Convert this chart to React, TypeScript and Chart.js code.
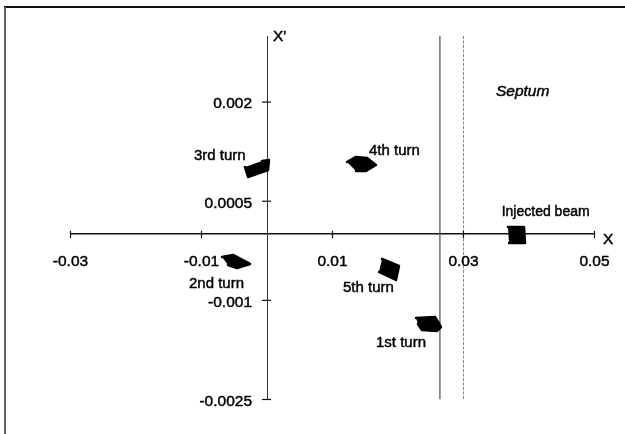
import React, { useEffect, useRef } from "react";
import { Chart, registerables } from "chart.js";

Chart.register(...registerables);

// Axis ranges and tick values
const xRange = [-0.03, 0.05];
const yRange = [-0.0025, 0.003];
const xTicks = [-0.03, -0.01, 0.01, 0.03, 0.05];
const yTicks = [0.002, 0.0005, -0.001, -0.0025];

// Beam outlines (X, X') for each turn
const turn1 = [[0.02275, -0.001266], [0.02565, -0.001251], [0.02656, -0.001403], [0.02595, -0.001463], [0.02366, -0.001448], [0.02305, -0.001357]];
const turn2 = [[-0.00687, -0.000343], [-0.00519, -0.000313], [-0.0026, -0.000449], [-0.00458, -0.00051], [-0.00595, -0.000465]];
const turn3 = [[-0.00336, 0.001018], [-0.0029, 0.000867], [0.00015, 0.000973], [0.00031, 0.001124], [-0.00076, 0.001109]];
const turn4 = [[0.01221, 0.001094], [0.01359, 0.00117], [0.01527, 0.001155], [0.01664, 0.001049], [0.01511, 0.000958], [0.01359, 0.000958]];
const turn5 = [[0.01756, -0.000374], [0.02015, -0.00048], [0.01969, -0.000691], [0.0171, -0.00057]];
const injected = [[0.03679, 0.00011], [0.03924, 0.00011], [0.03939, -0.000132], [0.03695, -0.000132]];

// Septum edges (X)
const septumX = [0.0264, 0.03];

// Text labels
const labelTexts = ["3rd turn", "4th turn", "2nd turn", "5th turn", "1st turn", "Injected beam"];
const labelX = [-0.01115, 0.01557, -0.01191, 0.0116, 0.01664, 0.03583];
const labelY = [0.001185, 0.001268, -0.000752, -0.000805, -0.001637, 0.000337];
const septumLabel = { text: "Septum", x: 0.03496, y: 0.002153 };
const axisLabels = { xText: "X", xAt: [0.0513, -0.0000787], yText: "X'", yAt: [0.00092, 0.00299] };

const blobs = [turn1, turn2, turn3, turn4, turn5, injected];

const FONT = '"Liberation Sans", Arial, Helvetica, sans-serif';

function heavyText(ctx: CanvasRenderingContext2D, t: string, x: number, y: number) {
  ctx.fillText(t, x, y);
  ctx.strokeText(t, x, y);
}

const overlay = {
  id: "overlay",
  afterDraw(chart: any) {
    const { ctx } = chart;
    const xs = chart.scales.x;
    const ys = chart.scales.y;
    const x0 = xs.getPixelForValue(0);
    const y0 = ys.getPixelForValue(0);
    ctx.save();

    // frame lines
    ctx.strokeStyle = "#111";
    ctx.lineWidth = 2;
    ctx.beginPath();
    ctx.moveTo(4, 7);
    ctx.lineTo(625, 7);
    ctx.stroke();
    ctx.strokeStyle = "#666";
    ctx.beginPath();
    ctx.moveTo(5, 7);
    ctx.lineTo(5, 434);
    ctx.stroke();

    // tick marks crossing the axes
    ctx.strokeStyle = "#111";
    ctx.lineWidth = 1.2;
    xTicks.forEach((v) => {
      const px = xs.getPixelForValue(v);
      ctx.beginPath();
      ctx.moveTo(px, y0 - 3.5);
      ctx.lineTo(px, y0 + 4);
      ctx.stroke();
    });
    yTicks.forEach((v) => {
      const py = ys.getPixelForValue(v);
      ctx.beginPath();
      ctx.moveTo(x0 - 5, py);
      ctx.lineTo(x0 + 4, py);
      ctx.stroke();
    });

    // text style
    ctx.fillStyle = "#000";
    ctx.strokeStyle = "#000";
    ctx.lineWidth = 0.45;

    // tick labels
    ctx.font = `15.5px ${FONT}`;
    ctx.textBaseline = "middle";
    ctx.textAlign = "center";
    xTicks.forEach((v) => {
      heavyText(ctx, String(v), xs.getPixelForValue(v), y0 + 27.5);
    });
    ctx.textAlign = "right";
    yTicks.forEach((v) => {
      heavyText(ctx, String(v), x0 - 15, ys.getPixelForValue(v) + 2);
    });

    // axis names
    ctx.textAlign = "left";
    ctx.font = `15.5px ${FONT}`;
    heavyText(ctx, axisLabels.xText, xs.getPixelForValue(axisLabels.xAt[0]), ys.getPixelForValue(axisLabels.xAt[1]));
    heavyText(ctx, axisLabels.yText, xs.getPixelForValue(axisLabels.yAt[0]), ys.getPixelForValue(axisLabels.yAt[1]));

    // turn labels
    labelTexts.forEach((t, i) => {
      ctx.font = i === labelTexts.length - 1 ? `14px ${FONT}` : `15px ${FONT}`;
      heavyText(ctx, t, xs.getPixelForValue(labelX[i]), ys.getPixelForValue(labelY[i]));
    });

    // septum
    ctx.font = `italic 15.5px ${FONT}`;
    heavyText(ctx, septumLabel.text, xs.getPixelForValue(septumLabel.x), ys.getPixelForValue(septumLabel.y));

    ctx.restore();
  },
};

export default function App() {
  const ref = useRef<HTMLCanvasElement>(null);

  useEffect(() => {
    if (!ref.current) return;
    const datasets: any[] = blobs.map((b) => ({
      data: b.map(([x, y]) => ({ x, y })),
      borderColor: "#000",
      backgroundColor: "#000",
      borderWidth: 2.5,
      borderJoinStyle: "round",
      borderCapStyle: "round",
      pointRadius: 0,
      fill: "shape",
      tension: 0,
    }));
    septumX.forEach((sx, i) => {
      datasets.push({
        data: [
          { x: sx, y: yRange[1] },
          { x: sx, y: yRange[0] },
        ],
        borderColor: i === 0 ? "#555" : "#888",
        borderWidth: i === 0 ? 1.3 : 1,
        borderDash: i === 0 ? [] : [3, 1.5],
        pointRadius: 0,
        fill: false,
      });
    });

    const chart = new Chart(ref.current, {
      type: "line",
      data: { datasets },
      options: {
        animation: false,
        responsive: true,
        maintainAspectRatio: false,
        events: [],
        layout: { padding: { left: 70.5, right: 30.5, top: 36, bottom: 34.5 } },
        plugins: { legend: { display: false }, tooltip: { enabled: false } },
        scales: {
          x: {
            type: "linear",
            min: xRange[0],
            max: xRange[1],
            position: { y: 0 },
            grid: { display: false },
            border: { display: true, color: "#111", width: 1.6 },
            ticks: { display: false },
            afterBuildTicks: (s: any) => {
              s.ticks = xTicks.map((v) => ({ value: v }));
            },
          },
          y: {
            type: "linear",
            min: yRange[0],
            max: yRange[1],
            position: { x: 0 },
            grid: { display: false },
            border: { display: true, color: "#333", width: 1 },
            ticks: { display: false },
            afterBuildTicks: (s: any) => {
              s.ticks = yTicks.map((v) => ({ value: v }));
            },
          },
        },
      } as any,
      plugins: [overlay],
    });
    return () => chart.destroy();
  }, []);

  return (
    <div style={{ position: "fixed", left: 0, top: 0, width: 625, height: 434, background: "#fff" }}>
      <canvas ref={ref} />
    </div>
  );
}
